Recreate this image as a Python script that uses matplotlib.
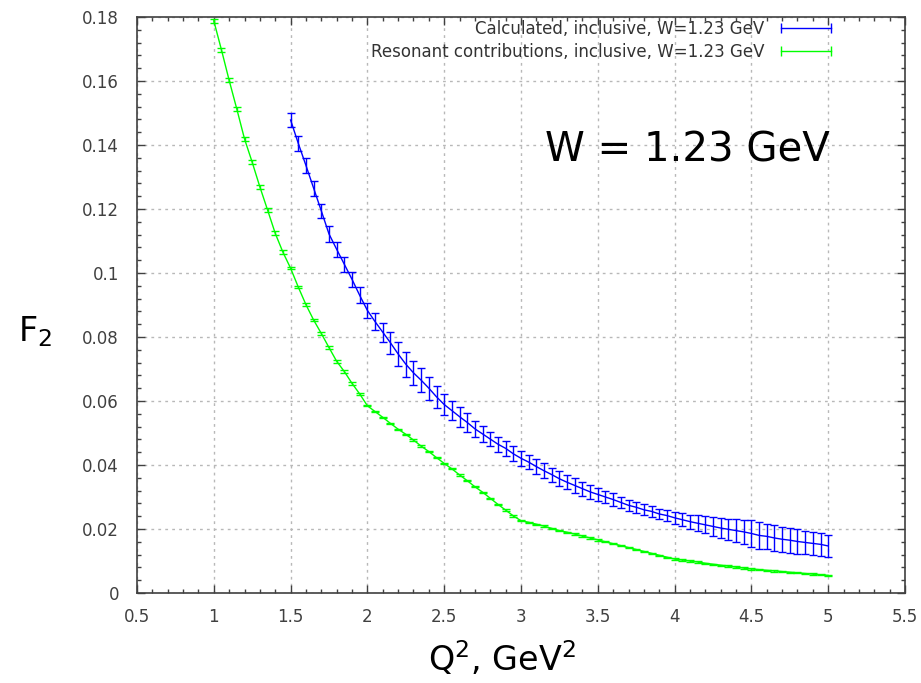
import matplotlib
matplotlib.use("Agg")
import matplotlib.pyplot as plt
from matplotlib.lines import Line2D
from matplotlib.ticker import MultipleLocator, FuncFormatter

# resonant contributions (green), Q^2 = 1.0 .. 5.0
q2_res = [1.00, 1.05, 1.10, 1.15, 1.20, 1.25, 1.30, 1.35, 1.40, 1.45,
          1.50, 1.55, 1.60, 1.65, 1.70, 1.75, 1.80, 1.85, 1.90, 1.95,
          2.00, 2.05, 2.10, 2.15, 2.20, 2.25, 2.30, 2.35, 2.40, 2.45,
          2.50, 2.55, 2.60, 2.65, 2.70, 2.75, 2.80, 2.85, 2.90, 2.95,
          3.00, 3.05, 3.10, 3.15, 3.20, 3.25, 3.30, 3.35, 3.40, 3.45,
          3.50, 3.55, 3.60, 3.65, 3.70, 3.75, 3.80, 3.85, 3.90, 3.95,
          4.00, 4.05, 4.10, 4.15, 4.20, 4.25, 4.30, 4.35, 4.40, 4.45,
          4.50, 4.55, 4.60, 4.65, 4.70, 4.75, 4.80, 4.85, 4.90, 4.95,
          5.00]
f2_res = [0.1788, 0.1697, 0.1602, 0.1512, 0.1419, 0.1346, 0.1269, 0.1197, 0.1124, 0.1065,
          0.1015, 0.0956, 0.0901, 0.0853, 0.0811, 0.0767, 0.0724, 0.0692, 0.0655, 0.0622,
          0.0585, 0.0567, 0.0549, 0.0530, 0.0512, 0.0496, 0.0478, 0.0459, 0.0442, 0.0423,
          0.0405, 0.0388, 0.0369, 0.0351, 0.0332, 0.0315, 0.0296, 0.0277, 0.0259, 0.0241,
          0.0226, 0.0221, 0.0215, 0.0209, 0.0202, 0.0195, 0.0190, 0.0184, 0.0178, 0.0172,
          0.0166, 0.0160, 0.0154, 0.0148, 0.0142, 0.0136, 0.0130, 0.0124, 0.0118, 0.0112,
          0.0106, 0.0103, 0.0100, 0.0097, 0.0093, 0.0090, 0.0087, 0.0084, 0.0081, 0.0078,
          0.0075, 0.0073, 0.0071, 0.0069, 0.0067, 0.0065, 0.0063, 0.0061, 0.0059, 0.0057,
          0.0055]
err_res = [0.0006] * 10 + [0.0004] * 10 + [0.0002] * 61

# calculated inclusive (blue), Q^2 = 1.5 .. 5.0
q2_calc = [1.50, 1.55, 1.60, 1.65, 1.70, 1.75, 1.80, 1.85, 1.90, 1.95,
           2.00, 2.05, 2.10, 2.15, 2.20, 2.25, 2.30, 2.35, 2.40, 2.45,
           2.50, 2.55, 2.60, 2.65, 2.70, 2.75, 2.80, 2.85, 2.90, 2.95,
           3.00, 3.05, 3.10, 3.15, 3.20, 3.25, 3.30, 3.35, 3.40, 3.45,
           3.50, 3.55, 3.60, 3.65, 3.70, 3.75, 3.80, 3.85, 3.90, 3.95,
           4.00, 4.05, 4.10, 4.15, 4.20, 4.25, 4.30, 4.35, 4.40, 4.45,
           4.50, 4.55, 4.60, 4.65, 4.70, 4.75, 4.80, 4.85, 4.90, 4.95,
           5.00]
f2_calc = [0.1478, 0.1405, 0.1336, 0.1265, 0.1194, 0.1122, 0.1074, 0.1027, 0.0980, 0.0930,
           0.0883, 0.0848, 0.0815, 0.0782, 0.0747, 0.0715, 0.0688, 0.0665, 0.0640, 0.0613,
           0.0589, 0.0570, 0.0551, 0.0533, 0.0513, 0.0497, 0.0481, 0.0465, 0.0452, 0.0435,
           0.0421, 0.0409, 0.0395, 0.0382, 0.0370, 0.0357, 0.0346, 0.0336, 0.0326, 0.0316,
           0.0308, 0.0300, 0.0292, 0.0283, 0.0274, 0.0268, 0.0260, 0.0255, 0.0247, 0.0242,
           0.0235, 0.0229, 0.0223, 0.0218, 0.0213, 0.0208, 0.0203, 0.0199, 0.0195, 0.0191,
           0.0186, 0.0180, 0.0177, 0.0172, 0.0168, 0.0165, 0.0161, 0.0158, 0.0155, 0.0152,
           0.0147]
err_calc = [0.0023, 0.0024, 0.0023, 0.0023, 0.0023, 0.0024, 0.0023, 0.0023, 0.0024, 0.0025,
            0.0024, 0.0026, 0.0030, 0.0035, 0.0037, 0.0039, 0.0038, 0.0037, 0.0036, 0.0034,
            0.0033, 0.0030, 0.0031, 0.0029, 0.0026, 0.0024, 0.0023, 0.0023, 0.0023, 0.0024,
            0.0023, 0.0022, 0.0023, 0.0023, 0.0022, 0.0023, 0.0022, 0.0022, 0.0022, 0.0021,
            0.0020, 0.0018, 0.0019, 0.0018, 0.0017, 0.0017, 0.0017, 0.0017, 0.0017, 0.0017,
            0.0018, 0.0020, 0.0022, 0.0025, 0.0027, 0.0030, 0.0032, 0.0033, 0.0035, 0.0037,
            0.0041, 0.0041, 0.0040, 0.0040, 0.0039, 0.0039, 0.0038, 0.0037, 0.0036, 0.0035,
            0.0033]

labels = ["Calculated, inclusive, W=1.23 GeV",
          "Resonant contributions, inclusive, W=1.23 GeV"]
colors = ["#0000ff", "#00ff00"]

fig = plt.figure(figsize=(9.21, 6.83), dpi=100)
ax = fig.add_axes([137 / 921, 1 - 593 / 683, 768 / 921, 576 / 683])

ax.errorbar(q2_res, f2_res, yerr=err_res, color=colors[1], lw=1.0,
            elinewidth=1.0, capsize=3, capthick=1.0)
ax.errorbar(q2_calc, f2_calc, yerr=err_calc, color=colors[0], lw=1.0,
            elinewidth=1.0, capsize=3, capthick=1.0)

ax.set_xlim(0.5, 5.5)
ax.set_ylim(0, 0.18)
ax.xaxis.set_major_locator(MultipleLocator(0.5))
ax.xaxis.set_minor_locator(MultipleLocator(0.1))
ax.yaxis.set_major_locator(MultipleLocator(0.02))
ax.yaxis.set_minor_locator(MultipleLocator(0.004))
ax.xaxis.set_major_formatter(FuncFormatter(lambda v, p: "%g" % round(v, 3)))
ax.yaxis.set_major_formatter(FuncFormatter(lambda v, p: "%g" % round(v, 3)))

ax.tick_params(which="both", direction="in", top=True, right=True,
               colors="#404040", labelcolor="#404040", labelsize=12)
ax.tick_params(which="major", length=6, width=1)
ax.tick_params(which="minor", length=3, width=1)
ax.tick_params(axis="y", pad=13)
ax.tick_params(axis="x", pad=11)
for s in ax.spines.values():
    s.set_color("#404040")
    s.set_linewidth(1.2)

ax.grid(True, which="major", color="#b8b8b8", linestyle=(0, (2, 3)), linewidth=1)
ax.set_axisbelow(True)

handles = [Line2D([], [], color=c, lw=1, marker="|", markersize=7, mew=1)
           for c in colors]
leg = ax.legend(handles, labels, loc="upper right", bbox_to_anchor=(0.910, 0.995),
                frameon=False, markerfirst=False, numpoints=2, fontsize=12,
                handlelength=3.6, handletextpad=0.7, labelspacing=0.3,
                borderpad=0, borderaxespad=0)
for t in leg.get_texts():
    t.set_color("#333333")

ax.text(0.902, 0.769, "W = 1.23 GeV", transform=ax.transAxes, ha="right",
        va="center", fontsize=29, color="black")

fig.text(0.038, 0.515, "F$_\\mathregular{2}$", fontsize=24, ha="center", va="center")
fig.text(0.545, 0.035, "Q$^\\mathregular{2}$, GeV$^\\mathregular{2}$", fontsize=24,
         ha="center", va="center")

fig.savefig("out.png", dpi=100)
